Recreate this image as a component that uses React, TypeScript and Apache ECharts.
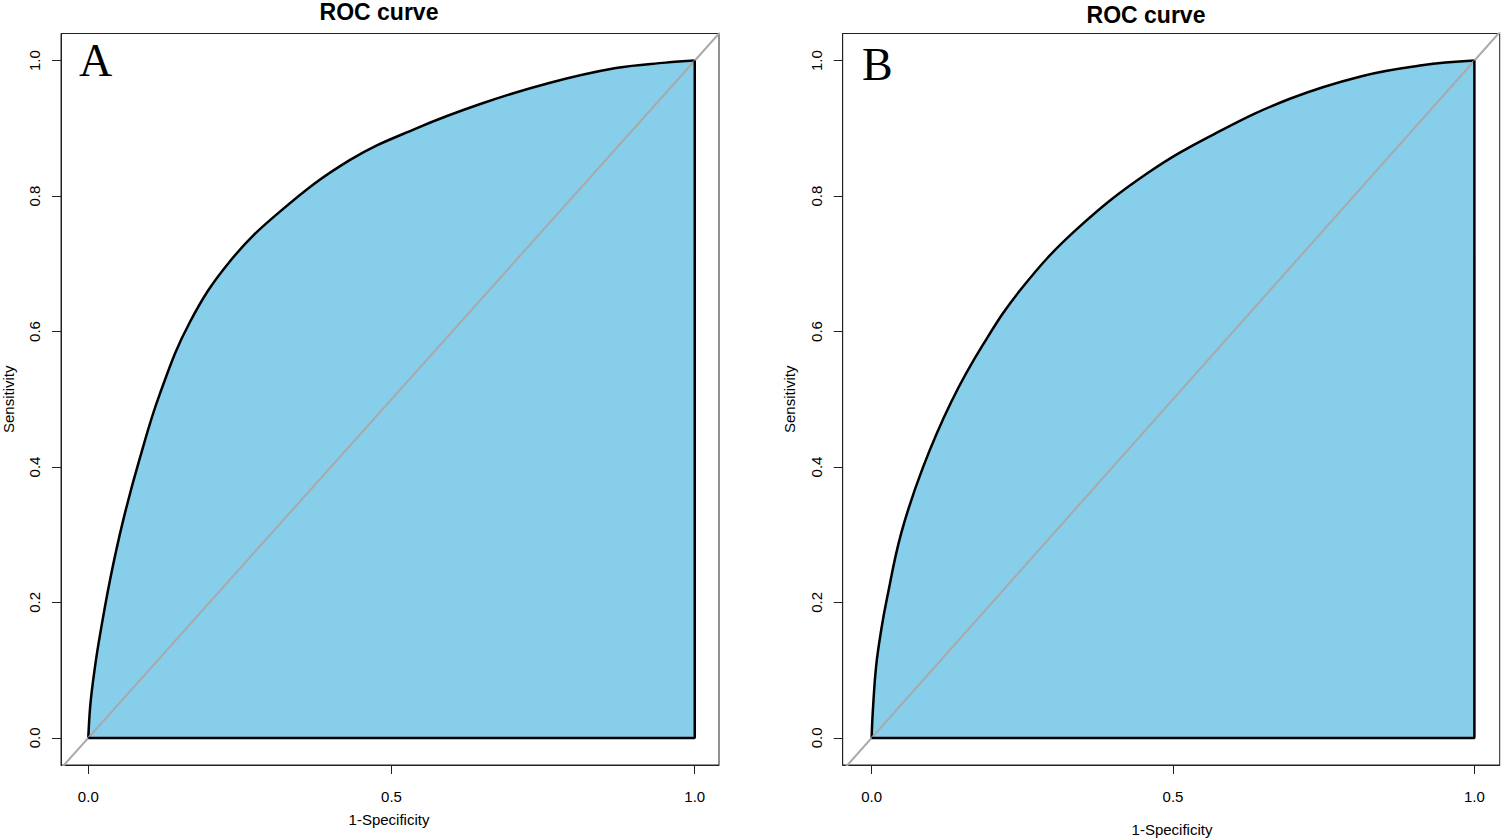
import { useEffect, useRef } from 'react'
import * as echarts from 'echarts'

// ROC points (1-specificity, sensitivity)
const fprA = [0, 0.003, 0.008, 0.017, 0.036, 0.058, 0.085, 0.118, 0.167, 0.233, 0.316, 0.431, 0.541, 0.65, 0.76, 0.87, 0.952, 1]
const tprA = [0, 0.045, 0.085, 0.14, 0.234, 0.323, 0.413, 0.508, 0.613, 0.703, 0.777, 0.853, 0.9, 0.937, 0.967, 0.989, 0.997, 1]

const fprB = [0, 0.002, 0.0076, 0.016, 0.025, 0.049, 0.085, 0.132, 0.185, 0.25, 0.339, 0.458, 0.576, 0.695, 0.813, 0.913, 1]
const tprB = [0, 0.04, 0.107, 0.16, 0.204, 0.302, 0.399, 0.496, 0.581, 0.665, 0.75, 0.834, 0.895, 0.944, 0.977, 0.993, 1]

const xTicks = [0, 0.5, 1]
const yTicks = [0, 0.2, 0.4, 0.6, 0.8, 1]

const SANS = 'Liberation Sans, Arial, sans-serif'
const SERIF = 'Liberation Serif, Times New Roman, serif'
const BOX = '#222'

const panels = [
  { letter: 'A', fpr: fprA, tpr: tprA, left: 61, width: 658, xMin: -0.045, xMax: 1.04, titleX: 379, titleY: 11.5, letterX: 79, letterY: 60, xNameX: 389, xNameY: 819, yNameX: 8 },
  { letter: 'B', fpr: fprB, tpr: tprB, left: 842.7, width: 657, xMin: -0.048, xMax: 1.042, titleX: 1146, titleY: 15, letterX: 862, letterY: 64.5, xNameX: 1172, xNameY: 829, yNameX: 789 },
]

const TOP = 33.5
const HEIGHT = 731.5

export default function App() {
  const ref = useRef<HTMLDivElement>(null)

  useEffect(() => {
    if (!ref.current) return
    const chart = echarts.init(ref.current, null, { renderer: 'svg' })

    const axisCommon = {
      type: 'value' as const,
      splitLine: { show: false },
      axisLine: { show: true, onZero: false, lineStyle: { color: BOX, width: 1 } },
      axisTick: { show: true, length: 9, lineStyle: { color: BOX, width: 1 } },
    }

    const labelStyle = { color: '#000', fontFamily: SANS, fontSize: 15 }

    chart.setOption({
      animation: false,
      backgroundColor: '#fff',
      grid: panels.map((p) => ({
        left: p.left,
        top: TOP,
        width: p.width,
        height: HEIGHT,
        show: true,
        borderColor: BOX,
        borderWidth: 1,
        backgroundColor: 'transparent',
      })),
      xAxis: panels.map((p, i) => ({
        ...axisCommon,
        gridIndex: i,
        min: p.xMin,
        max: p.xMax,
        axisTick: { ...axisCommon.axisTick, customValues: xTicks },
        axisLabel: { ...labelStyle, margin: 24, customValues: xTicks, formatter: (v: number) => v.toFixed(1) },
      })),
      yAxis: panels.map((_, i) => ({
        ...axisCommon,
        gridIndex: i,
        min: -0.04,
        max: 1.04,
        axisTick: { ...axisCommon.axisTick, customValues: yTicks },
        axisLabel: { ...labelStyle, margin: 19, rotate: 90, customValues: yTicks, formatter: (v: number) => v.toFixed(1) },
      })),
      series: panels.flatMap((p, i) => [
        {
          type: 'line',
          xAxisIndex: i,
          yAxisIndex: i,
          data: p.fpr.map((x, k) => [x, p.tpr[k]]),
          smooth: 0.4,
          showSymbol: false,
          silent: true,
          lineStyle: { color: '#000', width: 2.5 },
          areaStyle: { color: '#87CEEB', opacity: 1, origin: 0 },
        },
        {
          type: 'line',
          xAxisIndex: i,
          yAxisIndex: i,
          data: [[-0.1, -0.1], [1.1, 1.1]],
          showSymbol: false,
          silent: true,
          clip: true,
          lineStyle: { color: '#A9A9A9', width: 2 },
        },
        {
          type: 'line',
          xAxisIndex: i,
          yAxisIndex: i,
          data: [[1, 1], [1, 0], [0, 0]],
          showSymbol: false,
          silent: true,
          lineStyle: { color: '#000', width: 2.5 },
        },
      ]),
      graphic: panels.flatMap((p) => [
        {
          type: 'text',
          style: { text: 'ROC curve', x: p.titleX, y: p.titleY, textAlign: 'center', textVerticalAlign: 'middle', font: `bold 23px ${SANS}`, fill: '#000' },
        },
        {
          type: 'text',
          style: { text: p.letter, x: p.letterX, y: p.letterY, textAlign: 'left', textVerticalAlign: 'middle', font: `46px ${SERIF}`, fill: '#000' },
        },
        {
          type: 'text',
          style: { text: '1-Specificity', x: p.xNameX, y: p.xNameY, textAlign: 'center', textVerticalAlign: 'middle', font: `15px ${SANS}`, fill: '#000' },
        },
        {
          type: 'text',
          x: p.yNameX,
          y: TOP + HEIGHT / 2,
          rotation: Math.PI / 2,
          style: { text: 'Sensitivity', x: 0, y: 0, textAlign: 'center', textVerticalAlign: 'middle', font: `15px ${SANS}`, fill: '#000' },
        },
      ]),
    })

    return () => {
      chart.dispose()
    }
  }, [])

  return <div ref={ref} style={{ position: 'absolute', left: 0, top: 0, width: 1501, height: 838 }} />
}
